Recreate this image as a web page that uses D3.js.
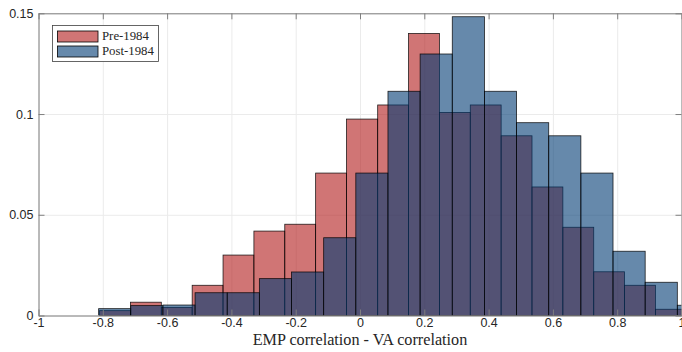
<!DOCTYPE html>
<html>
<head>
<meta charset="utf-8">
<script src="https://cdn.jsdelivr.net/npm/d3@7"></script>
<style>
    body { margin: 0; background: #fff; }
    svg { display: block; }
    .axis text { font-family: "Liberation Sans", Arial, sans-serif; font-size: 12.5px; fill: #262626; }
    .axis path, .axis line { stroke: #7f7f7f; }
    .gridlines line { stroke: #ebebeb; }
    .gridlines path { stroke: none; }
</style>
</head>
<body>
<svg id="hist" width="682" height="352"></svg>
<script>
// bin edges and normalised counts
const preEdges = [-0.810, -0.714, -0.618, -0.522, -0.426, -0.330, -0.234, -0.138, -0.042, 0.055,
    0.151, 0.247, 0.343, 0.439, 0.535, 0.631, 0.727, 0.823, 0.919, 1.015];
const preValues = [0.0024, 0.0066, 0.0040, 0.0150, 0.0300, 0.0419, 0.0453, 0.0707, 0.0975, 0.1045,
    0.1400, 0.1008, 0.1045, 0.0892, 0.0638, 0.0438, 0.0217, 0.0150, 0.0031];

const postEdges = [-0.813, -0.713, -0.613, -0.513, -0.413, -0.313, -0.213, -0.113, -0.013, 0.087,
    0.187, 0.287, 0.387, 0.487, 0.587, 0.687, 0.787, 0.887, 0.987, 1.087];
const postValues = [0.0034, 0.0049, 0.0052, 0.0113, 0.0113, 0.0183, 0.0216, 0.0386, 0.0707, 0.1113,
    0.1298, 0.1483, 0.1113, 0.0957, 0.0892, 0.0707, 0.0319, 0.0165, 0.0051];

const xTicks = [-1, -0.8, -0.6, -0.4, -0.2, 0, 0.2, 0.4, 0.6, 0.8, 1];
const yTicks = [0, 0.05, 0.1, 0.15];
const seriesNames = ["Pre-1984", "Post-1984"];
const seriesColors = ["#b11919", "#003a73"];

(function () {
    const svg = d3.select("svg#hist");
    const plot = { left: 38.5, right: 681.5, top: 13.3, bottom: 315.5 };

    const xScale = d3.scaleLinear().domain([-1, 1]).range([plot.left, plot.right]);
    const yScale = d3.scaleLinear().domain([0, 0.15]).range([plot.bottom, plot.top]);

    // gridlines
    svg.append("g").attr("class", "gridlines")
        .attr("transform", `translate(0,${plot.bottom})`)
        .call(d3.axisBottom(xScale).tickValues(xTicks).tickSize(-(plot.bottom - plot.top)).tickFormat(""));
    svg.append("g").attr("class", "gridlines")
        .attr("transform", `translate(${plot.left},0)`)
        .call(d3.axisLeft(yScale).tickValues(yTicks).tickSize(-(plot.right - plot.left)).tickFormat(""));

    svg.append("clipPath").attr("id", "plotClip")
        .append("rect")
        .attr("x", plot.left).attr("y", plot.top)
        .attr("width", plot.right - plot.left).attr("height", plot.bottom - plot.top);

    const bars = svg.append("g").attr("clip-path", "url(#plotClip)");

    function binData(edges, values) {
        return values.map((v, i) => ({ x0: edges[i], x1: edges[i + 1], v: v }));
    }

    function drawSeries(data, color, cls) {
        bars.selectAll("rect." + cls).data(data)
            .join("rect").attr("class", cls)
            .attr("x", d => xScale(d.x0))
            .attr("y", d => yScale(d.v))
            .attr("width", d => xScale(d.x1) - xScale(d.x0))
            .attr("height", d => yScale(0) - yScale(d.v))
            .attr("fill", color)
            .attr("fill-opacity", 0.6)
            .attr("stroke", "#000")
            .attr("stroke-opacity", 0.85)
            .attr("stroke-width", 0.8);
    }
    drawSeries(binData(preEdges, preValues), seriesColors[0], "pre");
    drawSeries(binData(postEdges, postValues), seriesColors[1], "post");

    // axes with inward ticks, box on all sides
    svg.append("g").attr("class", "axis")
        .attr("transform", `translate(0,${plot.bottom})`)
        .call(d3.axisBottom(xScale).tickValues(xTicks).tickSizeInner(-6).tickSizeOuter(0).tickPadding(3)
            .tickFormat(d => d3.format("")(d).replace("−", "-")));
    svg.append("g").attr("class", "axis")
        .attr("transform", `translate(${plot.left},0)`)
        .call(d3.axisLeft(yScale).tickValues(yTicks).tickSizeInner(-6).tickSizeOuter(0).tickPadding(5)
            .tickFormat(d => d3.format("")(d)));
    svg.append("g").attr("class", "axis")
        .attr("transform", `translate(0,${plot.top})`)
        .call(d3.axisTop(xScale).tickValues(xTicks).tickSizeInner(-6).tickSizeOuter(0).tickFormat(""));
    svg.append("g").attr("class", "axis")
        .attr("transform", `translate(${plot.right},0)`)
        .call(d3.axisRight(yScale).tickValues(yTicks).tickSizeInner(-6).tickSizeOuter(0).tickFormat(""));

    // x label
    svg.append("text")
        .attr("x", (plot.left + plot.right) / 2)
        .attr("y", 345)
        .attr("text-anchor", "middle")
        .attr("font-family", "'Liberation Serif', 'Times New Roman', serif")
        .attr("font-size", 16.2)
        .attr("fill", "#262626")
        .text("EMP correlation - VA correlation");

    // legend
    const legend = svg.append("g").attr("class", "legend");
    legend.append("rect")
        .attr("x", 52.5).attr("y", 25.5)
        .attr("width", 106).attr("height", 36)
        .attr("fill", "#fff")
        .attr("stroke", "#404040")
        .attr("stroke-width", 0.8);
    seriesNames.forEach((name, i) => {
        legend.append("rect")
            .attr("x", 57.5).attr("y", 31 + i * 15)
            .attr("width", 40.5).attr("height", 11)
            .attr("fill", seriesColors[i])
            .attr("fill-opacity", 0.6)
            .attr("stroke", "#000")
            .attr("stroke-width", 0.8);
        legend.append("text")
            .attr("x", 102)
            .attr("y", 39.5 + i * 15)
            .attr("font-family", "'Liberation Serif', 'Times New Roman', serif")
            .attr("font-size", 12.8)
            .attr("fill", "#262626")
            .text(name);
    });
})();
</script>
</body>
</html>
